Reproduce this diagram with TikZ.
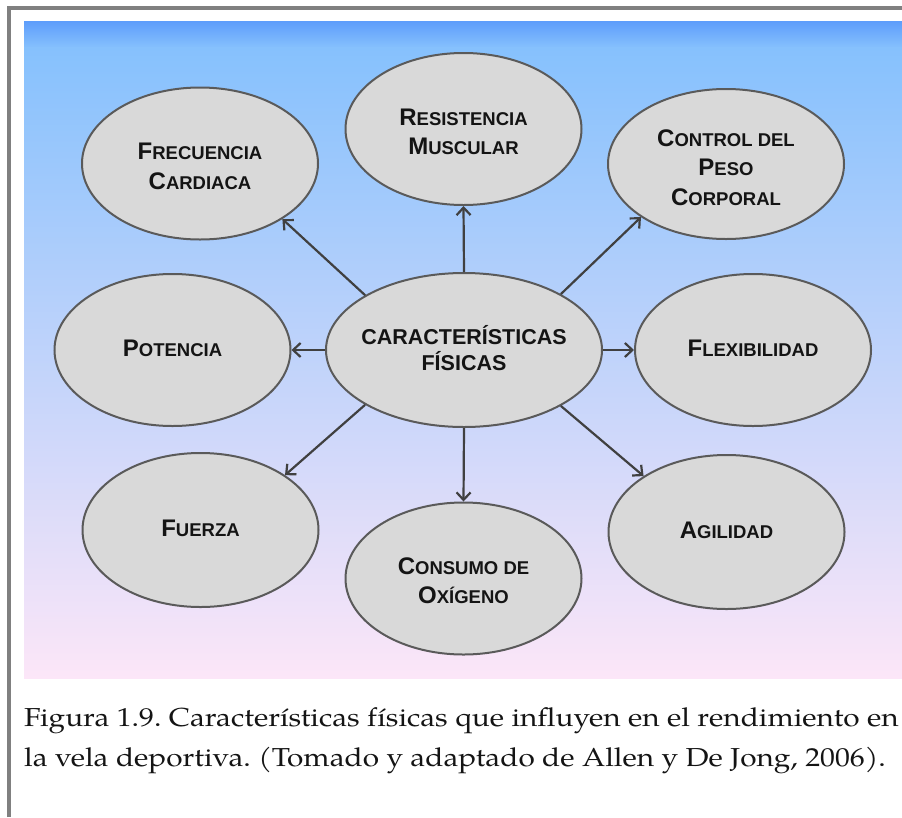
\documentclass[tikz,border=0pt]{standalone}
\usepackage{fontspec}
\setmainfont{TeX Gyre Pagella}[FakeStretch=1.145]
\setsansfont{Liberation Sans}
\usetikzlibrary{shapes.geometric,arrows.meta}
\definecolor{bubfill}{HTML}{D9D9D9}
\definecolor{bubline}{HTML}{5A5A5A}
\definecolor{arrcol}{HTML}{404040}
\definecolor{framecol}{HTML}{808080}
\definecolor{bgA}{HTML}{5E9DFB}
\definecolor{bgB}{HTML}{86C1FD}
\definecolor{bgM}{HTML}{C8D5EF}
\definecolor{bgC}{HTML}{FCE6F8}
\newcommand{\Sc}[2]{{\fontsize{24}{29.3}\selectfont #1}{\fontsize{18.5}{29.3}\selectfont #2}}
\frenchspacing
\tikzset{
  bubble/.style={ellipse, draw=bubline, line width=2pt, fill=bubfill, inner sep=0pt,
                 minimum width=236pt, minimum height=152pt},
  btext/.style={font=\sffamily\bfseries\fontsize{18.5}{29.3}\selectfont, text=black!92, align=center, inner sep=0pt},
  link/.style={draw=arrcol, line width=2.2pt,
               -{Straight Barb[length=7.5pt,width=14pt,line width=2.2pt]}},
  captext/.style={font=\fontsize{26}{40.7}\selectfont, text=black!92, anchor=base west, inner sep=0pt}
}
\begin{document}
\begin{tikzpicture}[x=1pt,y=-1pt]
\useasboundingbox (0,0) rectangle (902,817);
% frame
\draw[framecol, line width=4pt] (9.3,817) -- (9.3,8) -- (902,8);
% background
\shade[top color=bgA, bottom color=bgB] (24,21) rectangle (902,48);
\shade[top color=bgB, middle color=bgM, bottom color=bgC] (24,47.5) rectangle (902,678);
% bubbles
\node[bubble, minimum width=276pt, minimum height=154pt] (c) at (464,350) {};
\node[bubble] (frec) at (200,163.5) {};
\node[bubble] (resi) at (463.5,129) {};
\node[bubble, minimum height=150pt] (ctrl) at (726,164) {};
\node[bubble] (pot) at (172.5,350) {};
\node[bubble] (flex) at (753,350) {};
\node[bubble, minimum height=154pt] (fuer) at (200.5,530) {};
\node[bubble] (cons) at (463.5,578.5) {};
\node[bubble, minimum height=154pt] (agil) at (726.5,532) {};
% texts
\node[btext, font=\sffamily\bfseries\fontsize{21.5}{26.7}\selectfont] (ct) at (464,348) {CARACTERÍSTICAS\\FÍSICAS};
\node[btext] (frect) at (200,166.5) {\Sc{F}{RECUENCIA}\\\Sc{C}{ARDIACA}};
\node[btext] (resit) at (463.5,132) {\Sc{R}{ESISTENCIA}\\\Sc{M}{USCULAR}};
\node[btext] (ctrlt) at (726,167.5) {\Sc{C}{ONTROL DEL}\\\Sc{P}{ESO}\\\Sc{C}{ORPORAL}};
\node[btext] (pott) at (172.5,348) {\Sc{P}{OTENCIA}};
\node[btext] (flext) at (753,348) {\Sc{F}{LEXIBILIDAD}};
\node[btext] (fuert) at (200.5,528) {\Sc{F}{UERZA}};
\node[btext] (const) at (463.5,581) {\Sc{C}{ONSUMO DE}\\\Sc{O}{XÍGENO}};
\node[btext] (agilt) at (726.5,530) {\Sc{A}{GILIDAD}};
% connectors
\draw[link] (c.151) -- (frec.-34);
\draw[link] (c.90) -- (resi.-90);
\draw[link] (c.30) -- (ctrl.212);
\draw[link] (c.180) -- (pot.0);
\draw[link] (c.0) -- (flex.180);
\draw[link] (c.209) -- (fuer.33);
\draw[link] (c.-90) -- (cons.90);
\draw[link] (c.-30) -- (agil.146);
% caption
\node[captext] (cap1) at (24,726) {Figura 1.9. Características físicas que influyen en el rendimiento en};
\node[captext] (cap2) at (24,766.7) {la vela deportiva. (Tomado y adaptado de Allen y De Jong, 2006).};
\end{tikzpicture}
\end{document}
